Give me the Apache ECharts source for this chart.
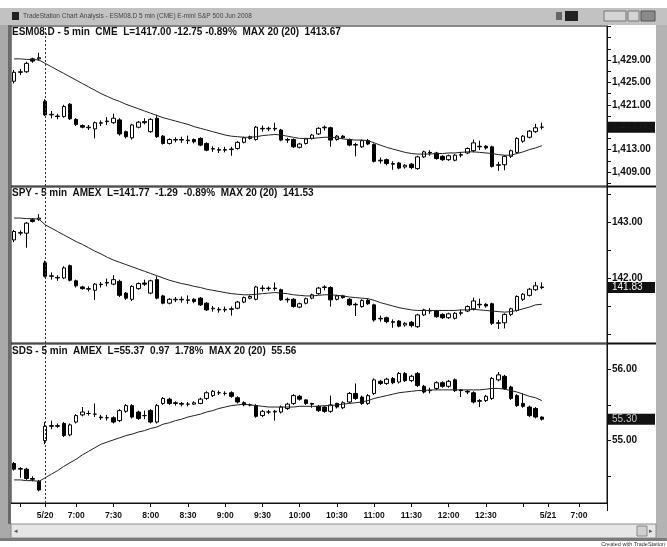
<!DOCTYPE html>
<html>
  <head>
    <meta charset="utf-8" />
    <script src="https://cdn.jsdelivr.net/npm/echarts@6/dist/echarts.min.js"></script>
    <title>ESM08.D / SPY / SDS 5 min</title>
    <style type="text/css">
      html, body { margin: 0; padding: 0; background: #fff; }
      #chart { width: 667px; height: 547px; }
    </style>
  </head>
  <body>
    <div id="chart"></div>
    <script type="text/javascript">
      // 5 min bars: end of 5/19, whole 5/20 session, start of 5/21 (empty)
      const times = [
        '5/19 12:55', '5/19 13:00', '5/19 13:05', '5/19 13:10', '5/19 13:15',
        '5/20 6:35', '5/20 6:40', '5/20 6:45', '5/20 6:50', '5/20 6:55',
        '5/20 7:00', '5/20 7:05', '5/20 7:10', '5/20 7:15', '5/20 7:20', '5/20 7:25',
        '5/20 7:30', '5/20 7:35', '5/20 7:40', '5/20 7:45', '5/20 7:50', '5/20 7:55',
        '5/20 8:00', '5/20 8:05', '5/20 8:10', '5/20 8:15', '5/20 8:20', '5/20 8:25',
        '5/20 8:30', '5/20 8:35', '5/20 8:40', '5/20 8:45', '5/20 8:50', '5/20 8:55',
        '5/20 9:00', '5/20 9:05', '5/20 9:10', '5/20 9:15', '5/20 9:20', '5/20 9:25',
        '5/20 9:30', '5/20 9:35', '5/20 9:40', '5/20 9:45', '5/20 9:50', '5/20 9:55',
        '5/20 10:00', '5/20 10:05', '5/20 10:10', '5/20 10:15', '5/20 10:20', '5/20 10:25',
        '5/20 10:30', '5/20 10:35', '5/20 10:40', '5/20 10:45', '5/20 10:50', '5/20 10:55',
        '5/20 11:00', '5/20 11:05', '5/20 11:10', '5/20 11:15', '5/20 11:20', '5/20 11:25',
        '5/20 11:30', '5/20 11:35', '5/20 11:40', '5/20 11:45', '5/20 11:50', '5/20 11:55',
        '5/20 12:00', '5/20 12:05', '5/20 12:10', '5/20 12:15', '5/20 12:20', '5/20 12:25',
        '5/20 12:30', '5/20 12:35', '5/20 12:40', '5/20 12:45', '5/20 12:50', '5/20 12:55',
        '5/20 13:00', '5/20 13:05', '5/20 13:10', '5/20 13:15',
        '5/21 6:35', '5/21 6:40', '5/21 6:45', '5/21 6:50', '5/21 6:55',
        '5/21 7:00', '5/21 7:05', '5/21 7:10', '5/21 7:15', '5/21 7:20'
      ]
      const sessionStart = '5/20 6:35'

      // bottom axis: ticks and the text shown under them
      const axisTicks = ['5/19 13:00', '5/20 6:35', '5/20 7:00', '5/20 7:30', '5/20 8:00', '5/20 8:30',
        '5/20 9:00', '5/20 9:30', '5/20 10:00', '5/20 10:30', '5/20 11:00', '5/20 11:30',
        '5/20 12:00', '5/20 12:30', '5/20 13:00', '5/21 6:35', '5/21 7:00']
      const axisText = ['', '5/20', '7:00', '7:30', '8:00', '8:30', '9:00', '9:30', '10:00', '10:30',
        '11:00', '11:30', '12:00', '12:30', '', '5/21', '7:00']

      // [open, close, low, high]
      const esBars = [
        [1425.2, 1426.8, 1424.8, 1427.2], [1426.8, 1426.9, 1426.3, 1427.4], [1426.9, 1428.4, 1426.7, 1428.7],
        [1429.2, 1428.8, 1428.5, 1429.4], [1429.2, 1429.4, 1428.9, 1430.3],
        [1421.6, 1419.2, 1419.0, 1422.0], [1419.2, 1419.3, 1418.6, 1419.9], [1419.0, 1418.9, 1418.4, 1419.4],
        [1418.9, 1420.7, 1418.7, 1421.0], [1421.1, 1418.5, 1418.3, 1421.3], [1418.4, 1417.5, 1417.2, 1418.6],
        [1417.3, 1417.0, 1416.8, 1417.5], [1416.9, 1417.0, 1416.5, 1417.4], [1416.7, 1417.8, 1415.0, 1418.0],
        [1417.7, 1417.8, 1417.2, 1418.2], [1418.0, 1418.1, 1417.4, 1418.8], [1417.8, 1418.6, 1417.6, 1419.4],
        [1418.3, 1415.8, 1415.5, 1418.6], [1416.2, 1415.3, 1415.0, 1416.4], [1415.1, 1417.4, 1414.8, 1417.6],
        [1417.0, 1417.9, 1416.8, 1418.1], [1418.0, 1417.8, 1417.5, 1418.6], [1416.2, 1418.4, 1416.0, 1418.6],
        [1418.6, 1415.3, 1415.1, 1419.2], [1415.4, 1414.1, 1413.9, 1415.6], [1414.1, 1414.8, 1413.9, 1415.0],
        [1414.7, 1414.8, 1414.3, 1415.2], [1414.8, 1414.7, 1414.2, 1415.3], [1414.6, 1414.7, 1414.0, 1415.5],
        [1414.8, 1414.4, 1414.1, 1415.0], [1415.0, 1413.8, 1413.6, 1415.2], [1414.1, 1412.9, 1412.7, 1414.3],
        [1413.1, 1413.2, 1412.6, 1413.6], [1413.0, 1412.9, 1412.4, 1413.4], [1412.9, 1413.0, 1412.5, 1413.5],
        [1413.0, 1413.1, 1411.9, 1413.5], [1413.2, 1414.3, 1413.0, 1414.5], [1414.3, 1415.1, 1414.1, 1415.3],
        [1415.0, 1415.3, 1414.8, 1415.5], [1414.8, 1417.0, 1414.6, 1417.2], [1416.8, 1416.7, 1416.2, 1417.3],
        [1416.7, 1416.8, 1416.3, 1417.1], [1416.8, 1416.7, 1416.3, 1417.8], [1416.5, 1414.7, 1414.5, 1416.7],
        [1414.8, 1414.7, 1414.2, 1415.1], [1414.8, 1413.5, 1413.3, 1415.0], [1413.4, 1414.0, 1413.2, 1414.2],
        [1414.1, 1414.9, 1413.9, 1415.1], [1415.0, 1415.6, 1414.8, 1415.8], [1415.8, 1416.8, 1415.6, 1417.0],
        [1416.9, 1417.0, 1416.4, 1417.3], [1416.9, 1414.7, 1413.5, 1417.1], [1414.8, 1415.4, 1414.6, 1415.6],
        [1415.4, 1415.1, 1414.9, 1415.6], [1414.8, 1413.8, 1413.6, 1415.0], [1413.9, 1413.8, 1411.8, 1414.2],
        [1413.5, 1414.6, 1413.3, 1414.8], [1414.6, 1414.0, 1413.8, 1414.9], [1413.9, 1410.9, 1410.7, 1414.1],
        [1411.0, 1411.1, 1410.5, 1411.6], [1411.2, 1410.5, 1410.2, 1411.4], [1410.5, 1410.4, 1409.4, 1410.9],
        [1410.6, 1409.7, 1409.5, 1410.8], [1409.9, 1410.2, 1409.6, 1410.4], [1410.4, 1409.8, 1409.5, 1410.6],
        [1409.6, 1411.7, 1409.4, 1411.9], [1411.7, 1412.6, 1411.5, 1412.8], [1412.5, 1412.4, 1411.9, 1412.9],
        [1412.4, 1411.4, 1411.2, 1412.6], [1411.8, 1411.2, 1411.0, 1412.0], [1411.2, 1411.9, 1411.0, 1412.1],
        [1411.1, 1412.0, 1410.9, 1412.2], [1412.0, 1412.1, 1411.6, 1412.6], [1412.4, 1413.2, 1412.2, 1413.4],
        [1412.8, 1414.2, 1412.5, 1414.8], [1413.6, 1413.5, 1412.9, 1414.6], [1413.6, 1413.3, 1413.0, 1413.8],
        [1413.5, 1410.0, 1409.8, 1413.7], [1410.2, 1410.3, 1409.2, 1410.8], [1410.3, 1411.8, 1409.3, 1412.0],
        [1411.8, 1412.8, 1411.5, 1413.0], [1412.5, 1415.0, 1412.3, 1415.2], [1414.5, 1415.4, 1414.2, 1415.6],
        [1415.2, 1416.3, 1415.0, 1416.5], [1416.2, 1416.9, 1416.0, 1417.6], [1417.0, 1417.0, 1416.6, 1417.8]
      ]
      const esAvg = [
        1429.2, 1429.2, 1429.1, 1429.1, 1429.0,
        1428.4, 1427.8, 1427.2, 1426.6, 1426.0,
        1425.4, 1424.8, 1424.2, 1423.6, 1423.0,
        1422.5, 1422.0, 1421.6, 1421.1, 1420.7,
        1420.3, 1419.9, 1419.5, 1419.1, 1418.7, 1418.4,
        1418.1, 1417.8, 1417.5, 1417.1, 1416.8,
        1416.5, 1416.2, 1415.9, 1415.6, 1415.4,
        1415.3, 1415.2, 1415.2, 1415.3,
        1415.5, 1415.6, 1415.7, 1415.6, 1415.4, 1415.2, 1415.0, 1415.0, 1415.0, 1415.1, 1415.2, 1415.2,
        1415.1, 1414.9, 1414.8, 1414.7, 1414.7, 1414.6, 1414.2, 1413.8, 1413.4, 1413.1, 1412.8, 1412.5, 1412.3,
        1412.2, 1412.2, 1412.2, 1412.3, 1412.3, 1412.4, 1412.4, 1412.5, 1412.6, 1412.6, 1412.5,
        1412.4, 1412.3, 1412.1, 1412.0, 1412.0, 1412.3, 1412.6, 1413.0, 1413.3, 1413.7
      ]

      const spyBars = [
        [142.68, 142.83, 142.64, 142.86], [142.80, 142.81, 142.76, 142.85], [142.80, 142.98, 142.54, 143.00],
        [143.04, 143.01, 142.99, 143.07], [143.05, 143.07, 143.02, 143.14],
        [142.27, 142.03, 142.01, 142.31], [142.03, 142.04, 141.97, 142.10], [142.01, 142.00, 141.95, 142.05],
        [142.00, 142.18, 141.98, 142.21], [142.22, 141.96, 141.94, 142.24], [141.95, 141.86, 141.83, 141.97],
        [141.84, 141.81, 141.79, 141.86], [141.80, 141.81, 141.76, 141.85], [141.78, 141.89, 141.61, 141.91],
        [141.88, 141.89, 141.83, 141.93], [141.91, 141.92, 141.85, 141.99], [141.89, 141.97, 141.87, 142.05],
        [141.94, 141.69, 141.66, 141.97], [141.73, 141.64, 141.61, 141.75], [141.62, 141.85, 141.59, 141.87],
        [141.81, 141.90, 141.79, 141.92], [141.91, 141.89, 141.86, 141.97], [141.73, 141.95, 141.71, 141.97],
        [141.97, 141.64, 141.62, 142.03], [141.68, 141.55, 141.53, 141.70], [141.55, 141.62, 141.53, 141.64],
        [141.61, 141.62, 141.57, 141.66], [141.62, 141.61, 141.56, 141.67], [141.60, 141.61, 141.54, 141.69],
        [141.62, 141.58, 141.55, 141.64], [141.64, 141.52, 141.50, 141.66], [141.55, 141.43, 141.41, 141.57],
        [141.45, 141.46, 141.40, 141.50], [141.44, 141.43, 141.38, 141.48], [141.43, 141.44, 141.39, 141.49],
        [141.44, 141.45, 141.33, 141.49], [141.46, 141.57, 141.44, 141.59], [141.57, 141.65, 141.55, 141.67],
        [141.64, 141.67, 141.62, 141.69], [141.62, 141.84, 141.60, 141.86], [141.82, 141.81, 141.76, 141.87],
        [141.81, 141.82, 141.77, 141.85], [141.82, 141.81, 141.77, 141.92], [141.79, 141.61, 141.59, 141.81],
        [141.62, 141.61, 141.56, 141.65], [141.62, 141.49, 141.47, 141.64], [141.48, 141.54, 141.46, 141.56],
        [141.55, 141.63, 141.53, 141.65], [141.64, 141.70, 141.62, 141.72], [141.72, 141.82, 141.70, 141.84],
        [141.83, 141.84, 141.78, 141.87], [141.83, 141.61, 141.49, 141.85], [141.62, 141.68, 141.60, 141.70],
        [141.68, 141.65, 141.63, 141.70], [141.62, 141.52, 141.50, 141.64], [141.53, 141.52, 141.32, 141.56],
        [141.49, 141.60, 141.47, 141.62], [141.60, 141.54, 141.52, 141.63], [141.52, 141.25, 141.22, 141.54],
        [141.27, 141.28, 141.22, 141.33], [141.29, 141.22, 141.19, 141.31], [141.22, 141.21, 141.11, 141.26],
        [141.23, 141.14, 141.12, 141.25], [141.16, 141.19, 141.13, 141.21], [141.21, 141.15, 141.12, 141.23],
        [141.13, 141.34, 141.11, 141.36], [141.34, 141.43, 141.32, 141.45], [141.42, 141.41, 141.36, 141.46],
        [141.41, 141.31, 141.29, 141.43], [141.35, 141.29, 141.27, 141.37], [141.29, 141.36, 141.27, 141.38],
        [141.28, 141.37, 141.26, 141.39], [141.37, 141.38, 141.33, 141.43], [141.41, 141.49, 141.39, 141.51],
        [141.45, 141.59, 141.42, 141.65], [141.53, 141.52, 141.46, 141.63], [141.53, 141.50, 141.47, 141.55],
        [141.54, 141.19, 141.16, 141.56], [141.19, 141.20, 141.09, 141.25], [141.20, 141.35, 141.10, 141.37],
        [141.35, 141.45, 141.32, 141.47], [141.42, 141.67, 141.40, 141.69], [141.62, 141.71, 141.59, 141.73],
        [141.69, 141.80, 141.67, 141.82], [141.79, 141.86, 141.77, 141.93], [141.84, 141.83, 141.80, 141.92]
      ]
      const spyAvg = [
        143.07, 143.07, 143.06, 143.06, 143.05,
        142.95, 142.89, 142.83, 142.77, 142.71,
        142.65, 142.60, 142.54, 142.48, 142.43,
        142.37, 142.32, 142.28, 142.24, 142.20,
        142.16, 142.12, 142.08, 142.04, 142.00,
        141.96, 141.93, 141.90, 141.88, 141.85,
        141.83, 141.80, 141.78, 141.76, 141.74,
        141.72, 141.71, 141.70, 141.70, 141.71,
        141.72, 141.73, 141.74, 141.73, 141.72,
        141.70, 141.69, 141.68, 141.68, 141.69,
        141.70, 141.70, 141.69, 141.68, 141.66,
        141.65, 141.64, 141.63, 141.60, 141.56,
        141.53, 141.50, 141.47, 141.45, 141.43,
        141.42, 141.42, 141.42, 141.42, 141.42,
        141.42, 141.42, 141.43, 141.43, 141.44,
        141.43, 141.42, 141.41, 141.40, 141.39,
        141.40, 141.42, 141.45, 141.48, 141.52, 141.53
      ]

      const sdsBars = [
        [54.68, 54.60, 54.58, 54.70], [54.60, 54.61, 54.48, 54.63], [54.60, 54.47, 54.45, 54.62],
        [54.47, 54.46, 54.43, 54.50], [54.43, 54.31, 54.29, 54.45],
        [55.00, 55.20, 54.95, 55.26], [55.20, 55.21, 55.16, 55.28], [55.20, 55.21, 55.18, 55.24],
        [55.24, 55.07, 55.05, 55.26], [55.08, 55.22, 55.06, 55.24], [55.26, 55.35, 55.24, 55.37],
        [55.36, 55.40, 55.34, 55.47], [55.38, 55.38, 55.35, 55.42], [55.37, 55.37, 55.33, 55.52],
        [55.33, 55.32, 55.29, 55.36], [55.32, 55.32, 55.28, 55.36], [55.32, 55.26, 55.24, 55.34],
        [55.28, 55.42, 55.26, 55.44], [55.41, 55.49, 55.39, 55.51], [55.49, 55.33, 55.31, 55.51],
        [55.40, 55.31, 55.29, 55.42], [55.35, 55.35, 55.30, 55.42], [55.42, 55.26, 55.24, 55.44],
        [55.26, 55.49, 55.24, 55.51], [55.52, 55.59, 55.50, 55.61], [55.58, 55.52, 55.50, 55.60],
        [55.53, 55.52, 55.49, 55.55], [55.52, 55.51, 55.48, 55.54], [55.51, 55.51, 55.48, 55.54],
        [55.51, 55.53, 55.50, 55.55], [55.52, 55.58, 55.51, 55.60], [55.59, 55.67, 55.57, 55.69],
        [55.63, 55.69, 55.61, 55.71], [55.67, 55.67, 55.64, 55.70], [55.66, 55.66, 55.63, 55.69],
        [55.67, 55.62, 55.60, 55.69], [55.60, 55.54, 55.52, 55.62], [55.53, 55.50, 55.48, 55.55],
        [55.50, 55.50, 55.48, 55.52], [55.49, 55.34, 55.32, 55.51], [55.35, 55.41, 55.33, 55.43],
        [55.40, 55.40, 55.37, 55.43], [55.40, 55.41, 55.28, 55.43], [55.40, 55.47, 55.38, 55.49],
        [55.45, 55.51, 55.43, 55.53], [55.52, 55.63, 55.50, 55.65], [55.62, 55.58, 55.56, 55.64],
        [55.57, 55.52, 55.50, 55.58], [55.52, 55.51, 55.46, 55.53], [55.48, 55.42, 55.40, 55.50],
        [55.47, 55.41, 55.39, 55.48], [55.41, 55.50, 55.39, 55.63], [55.52, 55.47, 55.45, 55.53],
        [55.46, 55.53, 55.44, 55.55], [55.54, 55.66, 55.52, 55.68], [55.66, 55.59, 55.57, 55.80],
        [55.61, 55.52, 55.50, 55.63], [55.52, 55.63, 55.50, 55.65], [55.66, 55.85, 55.64, 55.87],
        [55.83, 55.80, 55.78, 55.85], [55.80, 55.86, 55.78, 55.88], [55.87, 55.81, 55.79, 55.89],
        [55.82, 55.94, 55.80, 55.96], [55.94, 55.84, 55.82, 55.96], [55.84, 55.90, 55.82, 55.92],
        [55.94, 55.77, 55.75, 55.96], [55.76, 55.68, 55.66, 55.78], [55.70, 55.70, 55.66, 55.74],
        [55.73, 55.81, 55.71, 55.83], [55.81, 55.76, 55.74, 55.83], [55.76, 55.83, 55.74, 55.85],
        [55.85, 55.70, 55.68, 55.87], [55.71, 55.70, 55.61, 55.72], [55.69, 55.68, 55.65, 55.71],
        [55.67, 55.54, 55.52, 55.69], [55.55, 55.56, 55.47, 55.58], [55.56, 55.62, 55.54, 55.64],
        [55.59, 55.87, 55.57, 55.89], [55.85, 55.92, 55.83, 55.96], [55.90, 55.73, 55.71, 55.92],
        [55.75, 55.59, 55.57, 55.77], [55.63, 55.49, 55.47, 55.65], [55.52, 55.48, 55.46, 55.66],
        [55.47, 55.35, 55.33, 55.49], [55.45, 55.33, 55.31, 55.47], [55.33, 55.30, 55.28, 55.34]
      ]
      const sdsAvg = [
        54.45, 54.45, 54.44, 54.44, 54.43,
        54.48, 54.53, 54.58, 54.64, 54.69,
        54.74, 54.80, 54.85, 54.90, 54.95,
        54.98, 55.01, 55.04, 55.07, 55.09,
        55.12, 55.14, 55.17, 55.19, 55.23, 55.25,
        55.28, 55.30, 55.33, 55.35, 55.37,
        55.40, 55.42, 55.45, 55.47,
        55.49, 55.50, 55.51,
        55.50, 55.49, 55.48, 55.47,
        55.47, 55.47, 55.47, 55.47, 55.48,
        55.48, 55.48, 55.48, 55.49, 55.49,
        55.50, 55.51, 55.52, 55.53, 55.54, 55.56, 55.59, 55.61, 55.63, 55.65, 55.67, 55.68, 55.69,
        55.70, 55.70, 55.71, 55.71, 55.71, 55.71, 55.71, 55.71, 55.71, 55.71, 55.71,
        55.72, 55.73, 55.73, 55.72, 55.70, 55.68, 55.65, 55.62, 55.60, 55.56
      ]

      // price scale labels and ticks
      const esLabels = [1409, 1413, 1421, 1425, 1429]
      const esTicks = [1407, 1409, 1411, 1413, 1415, 1417, 1419, 1421, 1423, 1425, 1427, 1429, 1431, 1433, 1435]
      const spyLabels = [142, 143]
      const spyTicks = [141, 141.5, 142, 142.5, 143, 143.5]
      const sdsLabels = [55, 56]
      const sdsTicks = [54.5, 55, 55.5, 56]

      const titles = [
        'ESM08.D - 5 min  CME  L=1417.00 -12.75 -0.89%  MAX 20 (20)  1413.67',
        'SPY - 5 min  AMEX  L=141.77  -1.29  -0.89%  MAX 20 (20)  141.53',
        'SDS - 5 min  AMEX  L=55.37  0.97  1.78%  MAX 20 (20)  55.56'
      ]

      const FONT = '"Liberation Sans", Arial, sans-serif'

      function price(v) {
        return v.toFixed(2).replace(/\B(?=(\d{3})+(?!\d))/g, ',')
      }

      function yAxisFor(i, min, max, labels, ticks) {
        return {
          gridIndex: i,
          type: 'value',
          position: 'right',
          min: min,
          max: max,
          splitLine: { show: false },
          axisLine: { show: true, lineStyle: { color: '#111', width: 1 } },
          axisTick: { show: true, length: 4, customValues: ticks, lineStyle: { color: '#111' } },
          axisLabel: {
            customValues: labels,
            margin: 5,
            color: '#111',
            fontSize: 10,
            fontWeight: 'bold',
            fontFamily: FONT,
            formatter: price
          }
        }
      }

      function xAxisFor(i, withLabels) {
        const pick = function (idx, val) { return axisTicks.indexOf(val) >= 0 }
        return {
          gridIndex: i,
          type: 'category',
          data: times,
          boundaryGap: true,
          axisLine: { show: withLabels, lineStyle: { color: '#111' } },
          axisTick: { show: withLabels, alignWithLabel: true, interval: pick, length: 4, lineStyle: { color: '#111' } },
          axisLabel: {
            show: withLabels,
            interval: pick,
            margin: 8,
            color: '#111',
            fontSize: 8.5,
            fontWeight: 'bold',
            fontFamily: FONT,
            formatter: function (val) { return axisText[axisTicks.indexOf(val)] }
          },
          splitLine: { show: false }
        }
      }

      function boxLabel(bars, text, textColor) {
        const last = bars[bars.length - 1][1]
        return {
          yAxis: last,
          lineStyle: { color: 'rgba(0,0,0,0)', width: 0 },
          label: {
            show: true,
            position: 'end',
            distance: 1,
            formatter: text,
            backgroundColor: '#111',
            color: textColor,
            fontSize: 10,
            fontFamily: FONT,
            lineHeight: 10,
            padding: [1, 3, 0, 4],
            width: 40
          }
        }
      }

      function candles(i, bars, text, textColor) {
        return {
          type: 'candlestick',
          xAxisIndex: i,
          yAxisIndex: i,
          data: bars,
          barWidth: 4,
          itemStyle: {
            color: '#fff',
            color0: '#000',
            borderColor: '#000',
            borderColor0: '#000',
            borderWidth: 1
          },
          markLine: {
            silent: true,
            symbol: ['none', 'none'],
            animation: false,
            data: [
              { xAxis: sessionStart, lineStyle: { type: [2, 2], color: '#333', width: 1 }, label: { show: false } },
              boxLabel(bars, text, textColor)
            ]
          }
        }
      }

      function avgLine(i, values) {
        return {
          type: 'line',
          xAxisIndex: i,
          yAxisIndex: i,
          data: values,
          symbol: 'none',
          z: 3,
          lineStyle: { color: '#222', width: 1 }
        }
      }

      const gridBox = { left: 11, width: 596, show: true, borderColor: '#111', borderWidth: 1, backgroundColor: '#fff' }

      const chart = echarts.init(document.getElementById('chart'), null, { renderer: 'canvas' })
      const option = {
        animation: false,
        backgroundColor: '#fff',
        textStyle: { fontFamily: FONT },
        title: titles.map(function (t, i) {
          return {
            text: t,
            left: 12,
            top: [27, 188, 346][i],
            padding: 0,
            textStyle: { fontSize: 10, fontWeight: 'bold', color: '#111', fontFamily: FONT }
          }
        }),
        grid: [
          Object.assign({ top: 26, height: 160 }, gridBox),
          Object.assign({ top: 187, height: 156 }, gridBox),
          Object.assign({ top: 344, height: 159 }, gridBox)
        ],
        xAxis: [xAxisFor(0, false), xAxisFor(1, false), xAxisFor(2, true)],
        yAxis: [
          yAxisFor(0, 1406.5, 1435.07, esLabels, esTicks),
          yAxisFor(1, 140.839, 143.625, spyLabels, spyTicks),
          yAxisFor(2, 54.127, 56.352, sdsLabels, sdsTicks)
        ],
        series: [
          candles(0, esBars, '1,417.00', '#1a1a1a'),
          avgLine(0, esAvg),
          candles(1, spyBars, '141.83', '#f2f2f2'),
          avgLine(1, spyAvg),
          candles(2, sdsBars, '55.30', '#c8c8c8'),
          avgLine(2, sdsAvg)
        ],
        graphic: [
          // window frame
          { type: 'rect', silent: true, z: 50, shape: { x: 0, y: 8, width: 11, height: 533 }, style: { fill: '#a9a9a9' } },
          { type: 'rect', silent: true, z: 50, shape: { x: 8, y: 24, width: 3, height: 500 }, style: { fill: '#6a6a6a' } },
          { type: 'rect', silent: true, z: 50, shape: { x: 656, y: 8, width: 11, height: 533 }, style: { fill: '#b3b3b3' } },
          { type: 'rect', silent: true, z: 50, shape: { x: 0, y: 8, width: 667, height: 17 }, style: { fill: '#c2c2c2' } },
          { type: 'rect', silent: true, z: 51, shape: { x: 12, y: 12, width: 7, height: 8 }, style: { fill: '#222' } },
          { type: 'text', silent: true, z: 51, x: 23, y: 16.5, style: { text: 'TradeStation Chart Analysis - ESM08.D 5 min (CME) E-mini S&P 500 Jun 2008', fontSize: 6.5, fontFamily: FONT, fill: '#444', verticalAlign: 'middle' } },
          { type: 'rect', silent: true, z: 51, shape: { x: 556, y: 12, width: 6, height: 8 }, style: { fill: '#666' } },
          { type: 'rect', silent: true, z: 51, shape: { x: 565, y: 11, width: 13, height: 10 }, style: { fill: '#222' } },
          { type: 'rect', silent: true, z: 51, shape: { x: 604, y: 11, width: 22, height: 10 }, style: { fill: '#d4d4d4', stroke: '#777' } },
          { type: 'rect', silent: true, z: 51, shape: { x: 628, y: 11, width: 11, height: 10 }, style: { fill: '#d4d4d4', stroke: '#777' } },
          { type: 'rect', silent: true, z: 51, shape: { x: 641, y: 11, width: 14, height: 10 }, style: { fill: '#8a8a8a', stroke: '#555' } },
          // panel separators through the price scale
          { type: 'line', silent: true, z: 50, shape: { x1: 607, y1: 186.5, x2: 656, y2: 186.5 }, style: { stroke: '#111', lineWidth: 2 } },
          { type: 'line', silent: true, z: 50, shape: { x1: 607, y1: 343.5, x2: 656, y2: 343.5 }, style: { stroke: '#111', lineWidth: 2 } },
          { type: 'line', silent: true, z: 50, shape: { x1: 607.5, y1: 503, x2: 607.5, y2: 511 }, style: { stroke: '#111', lineWidth: 1 } },
          // scroll bar
          { type: 'rect', silent: true, z: 50, shape: { x: 11, y: 524, width: 645, height: 14 }, style: { fill: '#e6e6e6', stroke: '#8c8c8c' } },
          { type: 'text', silent: true, z: 51, x: 14, y: 531, style: { text: '\u25C2', fontSize: 7, fill: '#555', verticalAlign: 'middle' } },
          { type: 'rect', silent: true, z: 51, shape: { x: 637, y: 526, width: 10, height: 10 }, style: { fill: '#cfcfcf', stroke: '#888' } },
          { type: 'text', silent: true, z: 51, x: 649, y: 531, style: { text: '\u25B8', fontSize: 7, fill: '#555', verticalAlign: 'middle' } },
          { type: 'rect', silent: true, z: 50, shape: { x: 0, y: 538, width: 667, height: 3 }, style: { fill: '#7a7a7a' } },
          { type: 'text', silent: true, z: 51, x: 665, y: 544.5, style: { text: 'Created with TradeStation', fontSize: 5.5, fontFamily: FONT, fill: '#333', align: 'right', verticalAlign: 'middle' } }
        ]
      }
      chart.setOption(option)
    </script>
  </body>
</html>
